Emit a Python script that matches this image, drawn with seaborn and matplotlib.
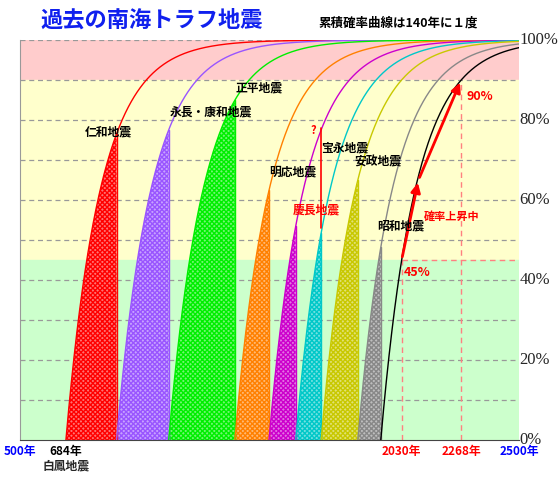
import numpy as np
import pandas as pd
import matplotlib
matplotlib.use("Agg")
import matplotlib.pyplot as plt
import seaborn as sns

sns.set_style("white")
plt.rcParams['font.family'] = ['Noto Sans CJK JP', 'DejaVu Sans']
plt.rcParams['hatch.linewidth'] = 1.0

quake_years = [684, 887, 1096, 1361, 1498, 1605, 1707, 1854, 1946]
quake_names = ["白鳳地震", "仁和地震", "永長・康和地震", "正平地震", "明応地震", "慶長地震", "宝永地震", "安政地震", "昭和地震"]
curve_colors = ["#ff0000", "#9955ff", "#00ee00", "#ff8000", "#cc00cc", "#00c8c8", "#c8c800", "#888888", "#000000"]
mean_interval = 140  # 累積確率曲線は140年に1度
label_pos = {"仁和地震": (760, 76), "永長・康和地震": (1100, 81), "正平地震": (1365, 87),
             "明応地震": (1500, 66), "慶長地震": (1595, 56.5), "宝永地震": (1705, 72),
             "安政地震": (1840, 68.5), "昭和地震": (1930, 52.5)}
x_min, x_max = 500, 2500

fig = plt.figure(figsize=(5.6, 4.8), dpi=100)
ax = fig.add_axes([20/560, 40/480, 499/560, 400/480])
ax.set_xlim(x_min, x_max)
ax.set_ylim(0, 100)
ax.axhspan(90, 100, color="#ffcccc", zorder=0)
ax.axhspan(45, 90, color="#ffffcc", zorder=0)
ax.axhspan(0, 45, color="#ccffcc", zorder=0)
for y in range(10, 101, 10):
    ax.axhline(y, color="#999999", ls=(0, (4, 3)), lw=0.9, zorder=1)

def tint(c, a=0.55):
    r, g, b = matplotlib.colors.to_rgb(c)
    return (1 - a + a * r, 1 - a + a * g, 1 - a + a * b)

for i, q in enumerate(quake_years):
    t = np.arange(q, x_max + 1, 1.0)
    p = 100 * (1 - np.exp(-(t - q) / mean_interval))
    df = pd.DataFrame({"year": t, "prob": p})
    sns.lineplot(data=df, x="year", y="prob", color=curve_colors[i], lw=1, ax=ax, zorder=3)
    if i + 1 < len(quake_years):
        nxt = quake_years[i + 1]
        m = t <= nxt
        ax.fill_between(t[m], 0, p[m], facecolor=tint(curve_colors[i]), edgecolor=curve_colors[i],
                        hatch="xxxxxxx", lw=0, zorder=2)
        ax.plot([nxt, nxt], [0, p[m][-1]], color=curve_colors[i], lw=1, zorder=3)

p2030 = 100 * (1 - np.exp(-(2030 - 1946) / mean_interval))
p2268 = 100 * (1 - np.exp(-(2268 - 1946) / mean_interval))
ax.plot([2030, 2030], [0, p2030], color="#ff8080", ls=(0, (4, 3)), lw=1, zorder=2)
ax.plot([2030, x_max], [p2030, p2030], color="#ff8080", ls=(0, (4, 3)), lw=1, zorder=2)
ax.plot([2268, 2268], [0, p2268], color="#ff8080", ls=(0, (4, 3)), lw=1, zorder=2)
ax.annotate("", xy=(2097, 65), xytext=(2030, p2030),
            arrowprops=dict(arrowstyle="-|>", color="red", lw=2, mutation_scale=14), zorder=5)
ax.annotate("", xy=(2268, p2268), xytext=(2097, 65),
            arrowprops=dict(arrowstyle="-|>", color="red", lw=2, mutation_scale=14), zorder=5)
ax.text(2040, 41, "45%", color="red", fontsize=9, fontweight="bold", zorder=6)
ax.text(2290, 85, "90%", color="red", fontsize=9, fontweight="bold", zorder=6)
ax.text(2120, 55, "確率上昇中", color="red", fontsize=8, fontweight="bold", zorder=6)

ax.plot([1705, 1705], [53, 78], color="red", lw=1.2, zorder=4)
ax.text(1665, 76.5, "?", color="red", fontsize=8, fontweight="bold", zorder=6)

for name, (x, y) in label_pos.items():
    ax.text(x, y, name, fontsize=8.5, fontweight="bold",
            color="red" if name == "慶長地震" else "black", zorder=6)

for s in ["top", "right"]:
    ax.spines[s].set_visible(False)
ax.spines["left"].set_color("#999999")
ax.spines["bottom"].set_color("#444444")
ax.set_xticks([]); ax.set_yticks([])
ax.set_xlabel(""); ax.set_ylabel("")

for v in [0, 20, 40, 60, 80, 100]:
    ax.text(x_max + 3, v, f"{v}%", fontsize=12, family="Liberation Serif",
            ha="left", va="center", zorder=6, clip_on=False)

xlabels = [(500, "500年", "blue"), (684, "684年", "black"), (2030, "2030年", "red"),
           (2268, "2268年", "red"), (2500, "2500年", "blue")]
for x, s, c in xlabels:
    ax.text(x, -2.8, s, fontsize=8.5, fontweight="bold", color=c, ha="center", va="center", clip_on=False)
ax.text(684, -6.4, quake_names[0], fontsize=8.5, fontweight="bold", ha="center", va="center", clip_on=False)

fig.text(40/560, 1 - 20/480, "過去の南海トラフ地震", color="#1020ee", fontsize=16, fontweight="bold", va="center")
fig.text(318/560, 1 - 23/480, "累積確率曲線は140年に１度", color="black", fontsize=9, fontweight="bold", va="center")

fig.savefig("out.png", dpi=100)
